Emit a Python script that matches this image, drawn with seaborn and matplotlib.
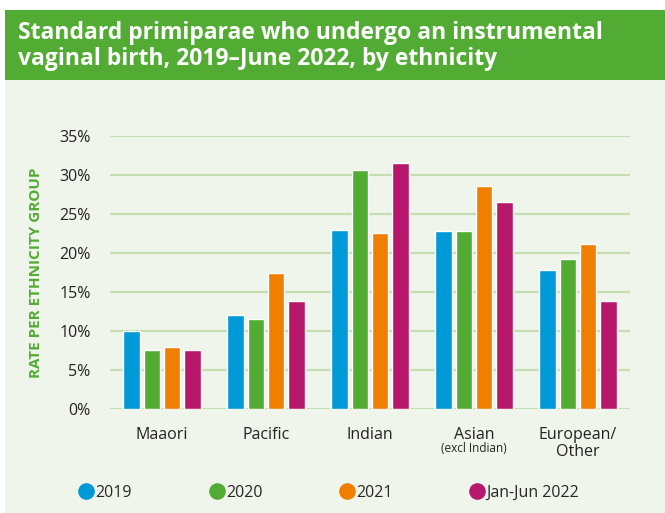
import matplotlib
matplotlib.use("Agg")
import matplotlib.pyplot as plt
import seaborn as sns
import pandas as pd
from matplotlib.patches import Rectangle
from matplotlib.lines import Line2D
import matplotlib.transforms as mtransforms

ethnicities = ["Maaori", "Pacific", "Indian", "Asian", "European/\nOther"]
periods = ["2019", "2020", "2021", "Jan-Jun 2022"]
rate_2019 = [10.0, 12.0, 22.9, 22.8, 17.8]
rate_2020 = [7.6, 11.6, 30.6, 22.8, 19.2]
rate_2021 = [8.0, 17.5, 22.6, 28.6, 21.1]
rate_2022 = [7.6, 13.9, 31.5, 26.6, 13.9]
colours = ["#0099d8", "#52ac33", "#f07f00", "#b8186b"]

rows = []
for per, vals in zip(periods, [rate_2019, rate_2020, rate_2021, rate_2022]):
    for eth, v in zip(ethnicities, vals):
        rows.append({"eth": eth, "period": per, "rate": v})
df = pd.DataFrame(rows)

bg = "#f0f5ec"
sns.set_style("white")
plt.rcParams['font.family'] = ['Open Sans', 'DejaVu Sans']

fig = plt.figure(figsize=(6.65, 5.13), dpi=100)
fig.patch.set_facecolor("white")
# background + title banner
fig.add_artist(Rectangle((5/665, 0), 660/665, 433/513, transform=fig.transFigure,
                         facecolor=bg, edgecolor="none", zorder=-2))
fig.add_artist(Rectangle((5/665, 1 - 80/513), 660/665, 70/513, transform=fig.transFigure,
                         facecolor="#52ac33", edgecolor="none", zorder=-1))
fig.text(18/665, 1 - 46/513, "Standard primiparae who undergo an instrumental\nvaginal birth, 2019\u2013June 2022, by ethnicity",
         color="white", fontsize=16.5, fontweight="bold", va="center", ha="left", linespacing=1.1)

ax = fig.add_axes([110/665, 1 - 409/513, 520/665, 273/513])
ax.set_facecolor(bg)
sns.barplot(data=df, x="eth", y="rate", hue="period", palette=colours, ax=ax,
            width=0.78, gap=0.2, saturation=1, legend=False, zorder=3)

ax.set_ylim(0, 35)
ax.set_xlim(-0.5, 4.5)
ax.set_yticks(range(0, 36, 5))
ax.set_yticklabels([f"{t}%" for t in range(0, 36, 5)], fontsize=11.5, color="#222222")
ax.grid(axis="y", color="#c3deb0", linewidth=1.6, zorder=0)
ax.set_axisbelow(True)
for s in ax.spines.values():
    s.set_visible(False)
ax.tick_params(axis="y", length=0, pad=14)
ax.tick_params(axis="x", length=0, pad=13)
ax.set_xticks(range(5))
ax.set_xticklabels(ethnicities, fontsize=11.5, color="#222222", linespacing=1.05, va="top")
ax.set_xlabel("")
ax.set_ylabel("RATE PER ETHNICITY GROUP", color="#52ac33", fontsize=11, fontweight="bold", labelpad=12)

trans = mtransforms.blended_transform_factory(ax.transData, fig.transFigure)
ax.text(3, 1 - 449/513, "(excl Indian)", transform=trans, ha="center", va="center",
        fontsize=8.5, color="#222222")

# legend entries at fixed spacing
legend_x = [78, 209, 339, 469]
for c, lab, x in zip(colours, periods, legend_x):
    h = Line2D([0], [0], marker="o", color="none", markerfacecolor=c, markeredgecolor="none",
               markersize=12)
    fig.legend([h], [lab], loc="center left", bbox_to_anchor=(x/665, 1 - 493/513),
               frameon=False, fontsize=11.5, handletextpad=0.05, handlelength=1.0,
               borderpad=0, borderaxespad=0)

fig.savefig("out.png", dpi=100, facecolor=fig.get_facecolor())
